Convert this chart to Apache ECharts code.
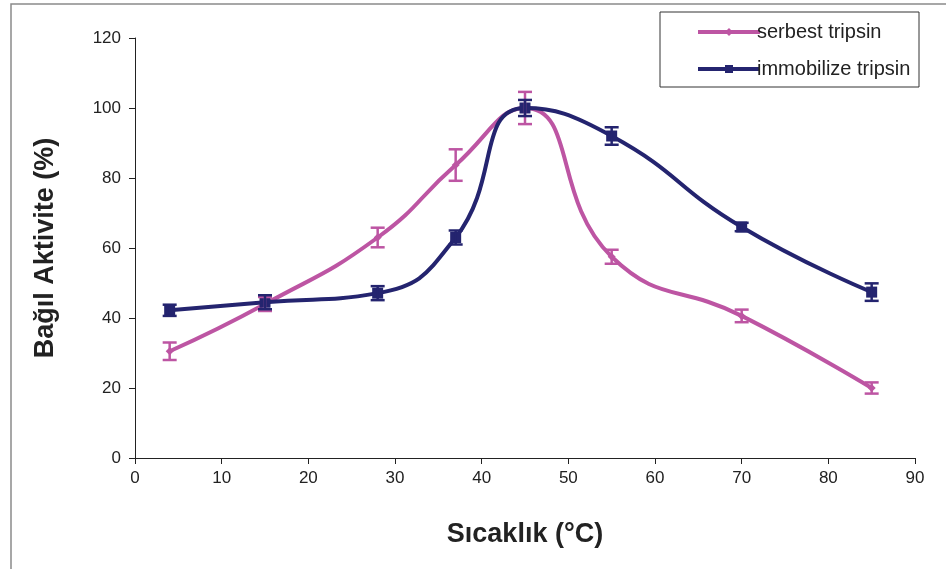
<!DOCTYPE html>
<html>
<head>
<meta charset="utf-8">
<script src="https://cdn.jsdelivr.net/npm/echarts@6/dist/echarts.min.js"></script>
<style>
  html, body { margin: 0; padding: 0; background: #fff; }
  #main { width: 946px; height: 569px; }
</style>
</head>
<body>
<div id="main"></div>
<script>
// sıcaklık (°C)
var temps = [4, 15, 28, 37, 45, 55, 70, 85];
var serbest = [30.5, 44, 63, 83.7, 100, 57.5, 40.6, 20];
var serbestErr = [2.5, 2, 2.8, 4.5, 4.6, 2, 1.8, 1.6];
var immob = [42.2, 44.5, 47.1, 63, 100, 92, 66, 47.4];
var immobErr = [1.6, 2, 2, 2, 2.3, 2.5, 1.2, 2.5];

var pink = '#BD55A3';
var navy = '#24246F';

function pairs(ys) {
  return temps.map(function (t, i) { return [t, ys[i]]; });
}
function errData(ys, es) {
  return temps.map(function (t, i) { return [t, ys[i] - es[i], ys[i] + es[i]]; });
}
function errSeries(name, ys, es, color) {
  return {
    name: name + ' err',
    type: 'custom',
    data: errData(ys, es),
    z: 5,
    renderItem: function (params, api) {
      var lo = api.coord([api.value(0), api.value(1)]);
      var hi = api.coord([api.value(0), api.value(2)]);
      var w = 7;
      var st = { stroke: color, lineWidth: 2.5 };
      return {
        type: 'group',
        children: [
          { type: 'line', shape: { x1: lo[0], y1: lo[1], x2: hi[0], y2: hi[1] }, style: st },
          { type: 'line', shape: { x1: lo[0] - w, y1: lo[1], x2: lo[0] + w, y2: lo[1] }, style: st },
          { type: 'line', shape: { x1: hi[0] - w, y1: hi[1], x2: hi[0] + w, y2: hi[1] }, style: st }
        ]
      };
    }
  };
}

var myChart = echarts.init(document.getElementById('main'));
myChart.setOption({
  animation: false,
  textStyle: { fontFamily: 'Liberation Sans, Arial, sans-serif' },
  grid: { left: 135, right: 31, top: 38, bottom: 111 },
  graphic: [{
    type: 'rect',
    shape: { x: 11, y: 4, width: 960, height: 600 },
    style: { fill: 'none', stroke: '#8a8a8a', lineWidth: 1.5 },
    silent: true
  }, {
    type: 'rect',
    shape: { x: 660, y: 12, width: 259, height: 75 },
    style: { fill: '#fff', stroke: '#333', lineWidth: 1 },
    z: 0,
    silent: true
  }],
  legend: {
    orient: 'vertical',
    left: 691,
    top: 17,
    itemGap: 17,
    itemWidth: 62,
    itemHeight: 10,
    lineStyle: { width: 4 },
    textStyle: { fontSize: 20, color: '#222', padding: [0, 0, 0, -8] },
    data: ['serbest tripsin', 'immobilize tripsin']
  },
  xAxis: {
    type: 'value',
    min: 0,
    max: 90,
    interval: 10,
    name: 'Sıcaklık (°C)',
    nameLocation: 'middle',
    nameGap: 63,
    nameTextStyle: { fontSize: 27, fontWeight: 'bold', color: '#222' },
    axisLine: { lineStyle: { color: '#222', width: 1 } },
    axisTick: { show: true, length: 6, lineStyle: { color: '#222' } },
    axisLabel: { fontSize: 17, color: '#222', margin: 12 },
    splitLine: { show: false }
  },
  yAxis: {
    type: 'value',
    min: 0,
    max: 120,
    interval: 20,
    name: 'Bağıl Aktivite (%)',
    nameLocation: 'middle',
    nameGap: 76,
    nameRotate: 90,
    nameTextStyle: { fontSize: 27, fontWeight: 'bold', color: '#222' },
    axisLine: { show: true, lineStyle: { color: '#222', width: 1 } },
    axisTick: { show: true, length: 6, lineStyle: { color: '#222' } },
    axisLabel: { fontSize: 17, color: '#222', margin: 14 },
    splitLine: { show: false }
  },
  series: [{
    name: 'serbest tripsin',
    type: 'line',
    smooth: 0.5,
    data: pairs(serbest),
    symbol: 'diamond',
    symbolSize: 8,
    z: 3,
    lineStyle: { color: pink, width: 4 },
    itemStyle: { color: pink }
  }, {
    name: 'immobilize tripsin',
    type: 'line',
    smooth: 0.5,
    data: pairs(immob),
    symbol: 'rect',
    symbolSize: 11,
    z: 4,
    lineStyle: { color: navy, width: 4 },
    itemStyle: { color: navy }
  },
  errSeries('serbest tripsin', serbest, serbestErr, pink),
  errSeries('immobilize tripsin', immob, immobErr, navy)
  ]
});
</script>
</body>
</html>
